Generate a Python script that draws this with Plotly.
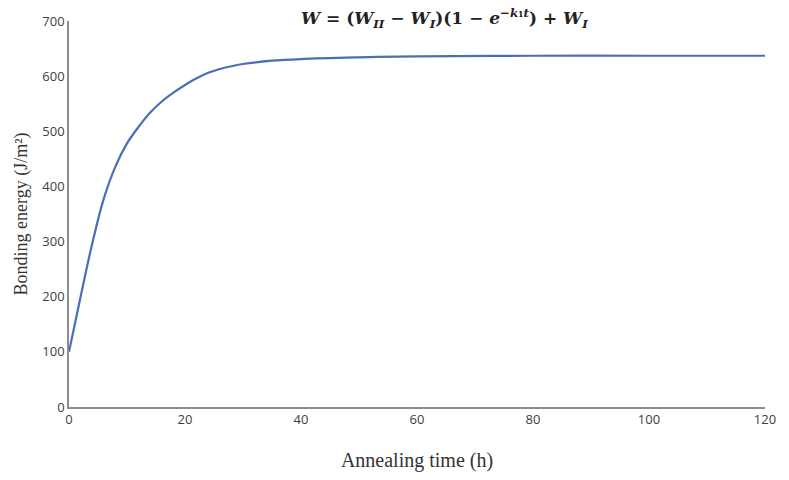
import plotly.graph_objects as go

time_h = [0, 2, 4, 6, 8, 10, 12, 14, 16, 18, 20, 22, 24, 26, 28, 30, 35, 40, 50, 60, 80, 100, 120]
energy = [100, 200, 296, 378, 436, 478, 508, 534, 554, 570, 584, 596, 606, 613, 618, 622, 628, 631, 634, 636, 637, 637, 637]

x_ticks = [0, 20, 40, 60, 80, 100, 120]
y_ticks = [0, 100, 200, 300, 400, 500, 600, 700]

fig = go.Figure()
fig.add_trace(go.Scatter(x=time_h, y=energy, mode="lines",
                         line=dict(color="#4a6fb5", width=2.2, shape="spline", smoothing=1.0),
                         showlegend=False))

fig.update_layout(
    width=789, height=480,
    margin=dict(l=69, r=24, t=19, b=72),
    plot_bgcolor="white", paper_bgcolor="white",
    font=dict(family="Open Sans", size=13, color="#404040"),
    xaxis=dict(range=[0, 120], tickvals=x_ticks, showgrid=False, zeroline=False,
               showline=True, linecolor="#8c8c8c", linewidth=1.5, ticks="",
               tickfont=dict(size=13, color="#404040"),
               title=dict(text="Annealing time (h)", standoff=26,
                          font=dict(family="Liberation Serif", size=20, color="#333333"))),
    yaxis=dict(range=[0, 700], tickvals=y_ticks, showgrid=False, zeroline=False,
               showline=True, linecolor="#8c8c8c", linewidth=1.5, ticks="",
               tickfont=dict(size=13, color="#404040"),
               title=dict(text="Bonding energy (J/m²)", standoff=10,
                          font=dict(family="Liberation Serif", size=18, color="#333333"))),
)

fig.add_annotation(
    x=0.539, xref="paper", y=1.0, yref="paper", yanchor="middle", yshift=3,
    text="<b><i>W</i> = (<i>W</i><sub><i>II</i></sub> − <i>W</i><sub><i>I</i></sub>)(1 − <i>e</i><sup>−<i>k</i>₁<i>t</i></sup>) + <i>W</i><sub><i>I</i></sub></b>",
    showarrow=False, font=dict(family="DejaVu Serif", size=17, color="#222222"),
)

fig.write_html("out.html")
